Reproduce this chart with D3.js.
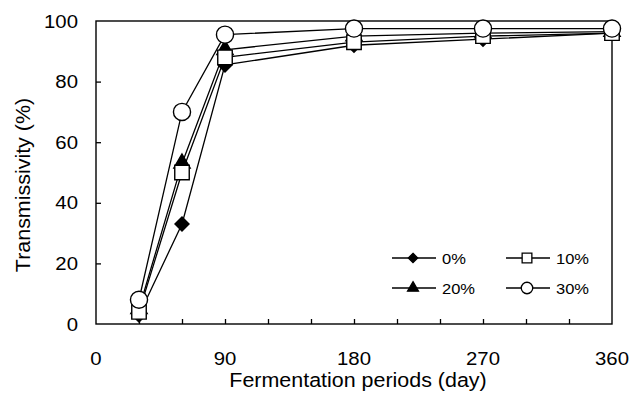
<!DOCTYPE html>
<html>
<head>
<meta charset="utf-8">
<script src="https://cdn.jsdelivr.net/npm/d3@7"></script>
<style>
  html, body { margin: 0; padding: 0; background: #fff; }
  svg { display: block; font-family: "Liberation Sans", Arial, sans-serif; }
</style>
</head>
<body>
<svg id="chart" width="643" height="394"></svg>
<script>
// Fermentation time (days) at which transmissivity was measured
const days = [30, 60, 90, 180, 270, 360];

// Transmissivity (%) for each addition level
const series0 = [3, 33, 85.5, 92, 94, 96];
const series10 = [4, 50, 88, 93, 95, 96];
const series20 = [5, 53, 90.5, 95, 96, 96.5];
const series30 = [8, 70, 95.5, 97.5, 97.5, 97.5];

const seriesNames = ["0%", "10%", "20%", "30%"];
const xTickLabels = [0, 90, 180, 270, 360];
const yTickLabels = [0, 20, 40, 60, 80, 100];

const svg = d3.select("#chart");
const plotLeft = 96, plotRight = 612, plotTop = 21, plotBottom = 324;

const x = d3.scaleLinear().domain([0, 360]).range([plotLeft, plotRight]);
const y = d3.scaleLinear().domain([0, 100]).range([plotBottom, plotTop]);

// Text with a slight horizontal stretch
function label(g, tx, ty, str, size, anchor, rotate) {
  return g.append("text")
    .attr("transform", `translate(${tx},${ty})` + (rotate ? ` rotate(${rotate})` : "") + " scale(1.1,1)")
    .attr("font-size", size)
    .attr("text-anchor", anchor)
    .attr("fill", "#000")
    .text(str);
}

// Plot frame
svg.append("rect")
  .attr("x", plotLeft).attr("y", plotTop)
  .attr("width", plotRight - plotLeft).attr("height", plotBottom - plotTop)
  .attr("fill", "none").attr("stroke", "#000").attr("stroke-width", 1.4);

// Inward ticks on the bottom axis every 30 days
const xAxis = d3.axisBottom(x).tickValues(d3.range(30, 360, 30)).tickSizeInner(-5).tickSizeOuter(0).tickFormat("");
const gx = svg.append("g").attr("transform", `translate(0,${plotBottom})`).call(xAxis);
gx.select(".domain").remove();
gx.selectAll("line").attr("stroke", "#000").attr("stroke-width", 1.3);

// Inward ticks on the left axis
const yAxis = d3.axisLeft(y).tickValues(yTickLabels.slice(1, -1)).tickSizeInner(-5).tickSizeOuter(0).tickFormat("");
const gy = svg.append("g").attr("transform", `translate(${plotLeft},0)`).call(yAxis);
gy.select(".domain").remove();
gy.selectAll("line").attr("stroke", "#000").attr("stroke-width", 1.3);

// Tick labels
const labels = svg.append("g");
xTickLabels.forEach(v => label(labels, x(v), 365, String(v), 18.5, "middle"));
yTickLabels.forEach(v => label(labels, 78, y(v) + 6.5, String(v), 18.5, "end"));

// Axis titles
label(labels, 358, 387, "Fermentation periods (day)", 19.5, "middle");
label(labels, 30, 185, "Transmissivity (%)", 19.5, "middle", -90);

// Marker shapes
const symbols = {
  "0%": { type: d3.symbolDiamond2, size: 125, fill: "#000" },
  "10%": { type: d3.symbolSquare, size: 210, fill: "#fff" },
  "20%": { type: d3.symbolTriangle, size: 115, fill: "#000" },
  "30%": { type: d3.symbolCircle, size: 230, fill: "#fff" }
};

const data = [
  { name: "0%", values: series0 },
  { name: "20%", values: series20 },
  { name: "10%", values: series10 },
  { name: "30%", values: series30 }
];

const line = d3.line().x((d, i) => x(days[i])).y(d => y(d));

const plot = svg.append("g");
data.forEach(s => {
  plot.append("path")
    .datum(s.values)
    .attr("d", line)
    .attr("fill", "none")
    .attr("stroke", "#000")
    .attr("stroke-width", 1.3);
});
data.forEach(s => {
  const sym = symbols[s.name];
  plot.append("g").selectAll("path")
    .data(s.values)
    .join("path")
    .attr("transform", (d, i) => `translate(${x(days[i])},${y(d)})`)
    .attr("d", d3.symbol().type(sym.type).size(sym.size))
    .attr("fill", sym.fill)
    .attr("stroke", "#000")
    .attr("stroke-width", 1.4);
});

// Legend
const legendItems = [
  { name: "0%", lx: 392, ly: 258 },
  { name: "10%", lx: 506, ly: 258 },
  { name: "20%", lx: 392, ly: 288 },
  { name: "30%", lx: 506, ly: 288 }
];
const legend = svg.append("g");
legendItems.forEach(it => {
  const sym = symbols[it.name];
  legend.append("line")
    .attr("x1", it.lx).attr("x2", it.lx + 44)
    .attr("y1", it.ly).attr("y2", it.ly)
    .attr("stroke", "#000").attr("stroke-width", 1.3);
  legend.append("path")
    .attr("transform", `translate(${it.lx + 21},${it.ly})`)
    .attr("d", d3.symbol().type(sym.type).size(sym.size * 0.45))
    .attr("fill", sym.fill)
    .attr("stroke", "#000")
    .attr("stroke-width", 1.3);
  label(legend, it.lx + 50, it.ly + 5.5, it.name, 15, "start");
});
</script>
</body>
</html>
